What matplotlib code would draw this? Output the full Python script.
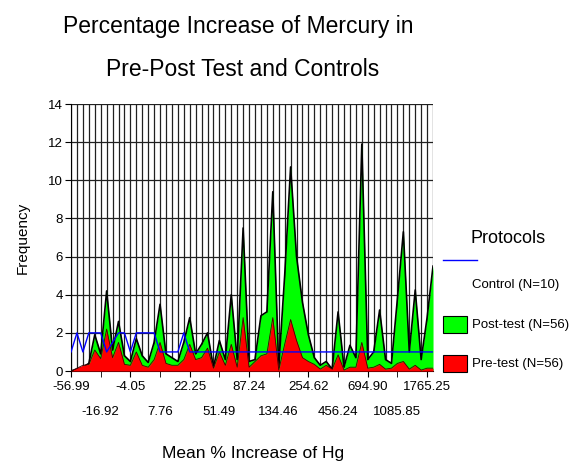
import numpy as np
import matplotlib
matplotlib.use('Agg')
import matplotlib.pyplot as plt
from matplotlib.patches import Rectangle
from matplotlib.lines import Line2D

plt.rcParams['font.family'] = ['Liberation Sans', 'DejaVu Sans']

# frequency per category (62 categories of mean % increase)
post_test = [0.0, 0.1, 0.2, 0.4, 1.9, 0.9, 4.2, 1.1, 2.6, 0.8,
             0.5, 1.7, 0.8, 0.45, 1.5, 3.5, 0.9, 0.7, 0.5, 1.5,
             2.8, 0.9, 1.4, 2.0, 0.2, 1.6, 0.6, 4.0, 0.6, 7.5,
             0.5, 0.6, 2.9, 3.1, 9.4, 0.2, 5.0, 10.7, 6.0, 3.6,
             1.9, 0.7, 0.3, 0.5, 0.1, 3.1, 0.2, 1.35, 0.7, 11.9,
             0.6, 1.0, 3.2, 0.6, 0.4, 3.8, 7.3, 1.0, 4.25, 0.6,
             2.8, 5.5]
pre_test = [0.0, 0.15, 0.3, 0.35, 1.1, 0.65, 2.2, 0.7, 1.5, 0.35,
            0.3, 1.0, 0.3, 0.2, 0.6, 1.5, 0.4, 0.3, 0.3, 0.6,
            1.4, 0.6, 0.7, 1.2, 0.15, 1.0, 0.3, 1.4, 0.2, 2.8,
            0.2, 0.5, 0.8, 0.9, 2.8, 0.05, 1.4, 2.7, 1.6, 0.7,
            0.5, 0.35, 0.1, 0.3, 0.1, 0.85, 0.05, 0.2, 0.2, 1.5,
            0.15, 0.2, 0.35, 0.1, 0.15, 0.4, 0.5, 0.1, 0.3, 0.05,
            0.15, 0.15]
control = [1, 2, 1, 2, 2, 2, 1, None, 2, 2,
           1, 2, 2, 2, 2, 1, 1, 1, 1, 2,
           1, 1, 1, 1, 1, 1, 1, 1, 1, 1,
           1, 1, 1, 1, 1, 1, 1, 1, 1, 1,
           1, 1, 1, 1, 1, 1, 1, 1, 1, 1,
           1, 1, 1, 1, 1, 1, 1, 1, 1, 1,
           1, 1]

top_labels = ['-56.99', '-4.05', '22.25', '87.24', '254.62', '694.90', '1765.25']
bottom_labels = ['-16.92', '7.76', '51.49', '134.46', '456.24', '1085.85']

x = np.arange(len(post_test))
ctrl = np.array([np.nan if v is None else v for v in control], dtype=float)
ok = ~np.isnan(ctrl)

fig = plt.figure(figsize=(5.87, 4.61), dpi=100)
ax = fig.add_axes([0.121, 0.1952, 0.6167, 0.5792])

ax.fill_between(x, 0, post_test, color='#00ff00', lw=0, zorder=2)
ax.plot(x, post_test, color='black', lw=1.2, zorder=3)
ax.fill_between(x, 0, pre_test, color='#ff0000', lw=0, zorder=4)
ax.plot(x, pre_test, color='#400000', lw=0.6, zorder=5)
ax.plot(x[ok], ctrl[ok], color='#0000ff', lw=1, zorder=6)

ax.set_xlim(0, len(x) - 1)
ax.set_ylim(0, 14)

# grid: every category vertically, every 2 horizontally
for xi in x:
    ax.axvline(xi, color='#202020', lw=0.9, zorder=1)
for yv in range(2, 15, 2):
    ax.axhline(yv, color='#202020', lw=0.9, zorder=1)

ax.set_yticks(range(0, 15, 2))
ax.set_xticks(x[::10], top_labels)
ax.set_xticks(x[5::10], bottom_labels, minor=True)
ax.tick_params(axis='x', which='major', length=4, pad=3, labelsize=9.5)
ax.tick_params(axis='x', which='minor', length=4, pad=21, labelsize=9.5)
ax.tick_params(axis='y', length=4, pad=2, labelsize=9.5)

for s in ['top', 'right']:
    ax.spines[s].set_visible(False)

ax.set_ylabel('Frequency', fontsize=11, labelpad=13)
fig.text(253 / 587, 1 - 453 / 461, 'Mean % Increase of Hg', fontsize=12.5,
         ha='center', va='center')

fig.text(238 / 587, 1 - 27 / 461, 'Percentage Increase of Mercury in',
         fontsize=16.5, ha='center', va='center')
fig.text(243 / 587, 1 - 70 / 461, 'Pre-Post Test and Controls',
         fontsize=16.5, ha='center', va='center')

# legend
W, H = 587, 461
fig.text(470 / W, 1 - 238 / H, 'Protocols', fontsize=13, va='center')
fig.add_artist(Line2D([443 / W, 477 / W], [1 - 260 / H, 1 - 260 / H],
                      color='#0000ff', lw=1))
fig.text(472 / W, 1 - 285 / H, 'Control (N=10)', fontsize=9.5, va='center')
fig.add_artist(Rectangle((443 / W, 1 - 333 / H), 24 / W, 17 / H,
                         facecolor='#00ff00', edgecolor='black', lw=0.8))
fig.text(472 / W, 1 - 325 / H, 'Post-test (N=56)', fontsize=9.5, va='center')
fig.add_artist(Rectangle((443 / W, 1 - 372 / H), 24 / W, 17 / H,
                         facecolor='#ff0000', edgecolor='black', lw=0.8))
fig.text(472 / W, 1 - 364 / H, 'Pre-test (N=56)', fontsize=9.5, va='center')

fig.savefig('out.png', dpi=100)
